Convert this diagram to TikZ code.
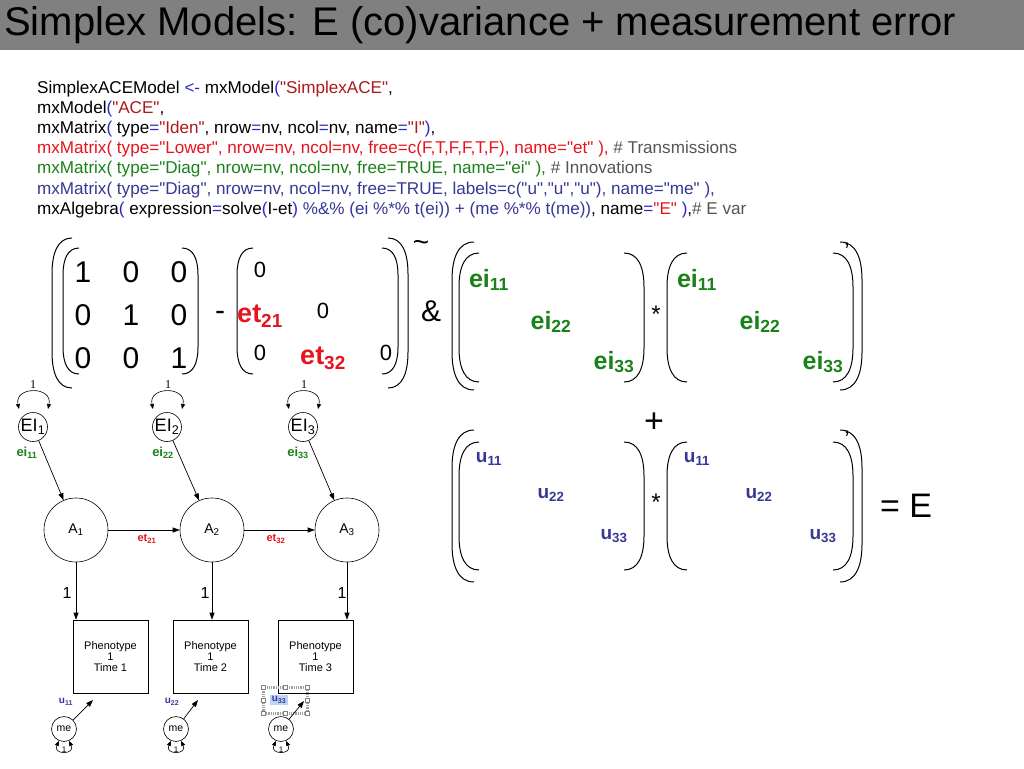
\documentclass[tikz,border=0pt]{standalone}
\usepackage{fontspec}
\setmainfont{Liberation Sans}
\newfontfamily\codefont{Liberation Sans}
\newfontfamily\serifA{Liberation Serif}
\usetikzlibrary{arrows.meta}
\definecolor{codeblue}{RGB}{40,40,210}
\definecolor{strred}{RGB}{175,25,25}
\definecolor{lred}{RGB}{230,20,30}
\definecolor{lgreen}{RGB}{25,130,25}
\definecolor{lnavy}{RGB}{55,55,150}
\definecolor{cgray}{RGB}{85,85,85}
\definecolor{titlegray}{RGB}{128,128,128}
\definecolor{selblue}{RGB}{190,212,245}
\newcommand\myfs[1]{\fontsize{#1}{#1}\selectfont}
\newcommand\kB[1]{\textcolor{codeblue}{#1}}
\newcommand\kS[1]{\textcolor{strred}{#1}}
% left paren: x, top, bottom, w, h
\newcommand\myLP[5]{\draw[pline] ({#1+#4},#2) .. controls ({#1+0.3*#4},#2) and (#1,{#2+0.4*#5}) .. (#1,{#2+#5}) -- (#1,{#3-#5}) .. controls (#1,{#3-0.4*#5}) and ({#1+0.3*#4},#3) .. ({#1+#4},#3);}
\newcommand\myRP[5]{\draw[pline] ({#1-#4},#2) .. controls ({#1-0.3*#4},#2) and (#1,{#2+0.4*#5}) .. (#1,{#2+#5}) -- (#1,{#3-#5}) .. controls (#1,{#3-0.4*#5}) and ({#1-0.3*#4},#3) .. ({#1-#4},#3);}
\begin{document}
\begin{tikzpicture}[x=1pt,y=-1pt,
  pline/.style={line width=1pt, black},
  mtx/.style={font=\myfs{30}, inner sep=0pt},
  etx/.style={font=\bfseries\myfs{27}, text=lred, inner sep=0pt},
  eix/.style={font=\bfseries\myfs{25}, text=lgreen, inner sep=0pt},
  ux/.style={font=\bfseries\myfs{19}, text=lnavy, inner sep=0pt},
  opx/.style={font=\myfs{30}, inner sep=0pt},
  code/.style={anchor=base west, font=\codefont\myfs{17.1}, inner sep=0pt},
  lat/.style={circle, draw, line width=0.6pt, inner sep=0pt},
  box/.style={rectangle, draw, line width=0.6pt, minimum width=75pt, minimum height=73pt, align=center, font=\myfs{11}, inner sep=0pt},
  arr/.style={-{Triangle[length=7pt,width=5pt]}, line width=0.7pt},
  dloop/.style={{Triangle[length=5pt,width=4pt]}-{Triangle[length=5pt,width=4pt]}, line width=0.6pt},
  gl/.style={font=\bfseries\myfs{13}, text=lgreen, inner sep=0pt},
  rl/.style={font=\bfseries\myfs{11}, text=lred, inner sep=0pt},
  nl/.style={font=\bfseries\myfs{10}, text=lnavy, inner sep=0pt},
  onel/.style={font=\myfs{16}, inner sep=0pt},
  serone/.style={font=\serifA\myfs{12}, inner sep=0pt}
]
\useasboundingbox (0,0) rectangle (1024,768);
\fill[white] (0,0) rectangle (1024,768);
% title bar
\fill[titlegray] (0,0) rectangle (1024,50);
\node[anchor=base west, font=\myfs{40}, inner sep=0pt] (title) at (4,36) {Simplex Models: E (co)variance + measurement error};

% code
\node[code] (c1) at (37,93) {SimplexACEModel \kB{<-} mxModel\kB{(}\kS{"SimplexACE"},};
\node[code] (c2) at (37,113.2) {mxModel\kB{(}\kS{"ACE"},};
\node[code] (c3) at (37,133.4) {mxMatrix\kB{(} type\kB{=}\kS{"Iden"}, nrow\kB{=}nv, ncol\kB{=}nv, name\kB{=}\kS{"I"}\kB{)},};
\node[code, text=lred] (c4) at (37,153.6) {mxMatrix( type="Lower", nrow=nv, ncol=nv, free=c(F,T,F,F,T,F), name="et" ), \textcolor{cgray}{\# Transmissions}};
\node[code, text=lgreen] (c5) at (37,173.8) {mxMatrix( type="Diag", nrow=nv, ncol=nv, free=TRUE, name="ei" ), \textcolor{cgray}{\# Innovations}};
\node[code, text=lnavy] (c6) at (37,194) {mxMatrix( type="Diag", nrow=nv, ncol=nv, free=TRUE, labels=c("u","u","u"), name="me" ),};
\node[code] (c7) at (37,214.2) {mxAlgebra\kB{(} expression\kB{=}solve\kB{(}I-et\kB{)} \textcolor{lnavy}{\%\&\% (ei \%*\% t(ei)) + (me \%*\% t(me))}, name\kB{=}\textcolor{lred}{"E"} \kB{)},\textcolor{cgray}{\# E var}};

% ---- matrix expression, top
\myLP{52}{238}{388}{20}{36}
\myLP{63}{248}{374}{16}{27}
\node[mtx] (i11) at (83,272) {1};
\node[mtx] (i12) at (131,272) {0};
\node[mtx] (i13) at (179,272) {0};
\node[mtx] (i21) at (83,315) {0};
\node[mtx] (i22) at (131,315) {1};
\node[mtx] (i23) at (179,315) {0};
\node[mtx] (i31) at (83,358) {0};
\node[mtx] (i32) at (131,358) {0};
\node[mtx] (i33) at (179,358) {1};
\myRP{198}{248}{374}{16}{27}
\node[opx] (minus) at (220,316) {-};
\myLP{237}{248}{374}{16}{27}
\node[mtx, font=\myfs{22}] (e11) at (260,270) {0};
\node[etx] (e21) at (260,316) {et\textsubscript{21}};
\node[mtx, font=\myfs{22}] (e22) at (323,311) {0};
\node[mtx, font=\myfs{22}] (e31) at (260,353) {0};
\node[etx] (e32) at (323,358) {et\textsubscript{32}};
\node[mtx, font=\myfs{22}] (e33) at (386,353) {0};
\myRP{398}{248}{374}{16}{27}
\myRP{408}{238}{388}{20}{36}
\node[font=\myfs{28}, inner sep=0pt] (tilde) at (421,246) {\char`\~};
\node[opx] (amp) at (431,311) {\&};

% ei block
\myLP{452}{242}{390}{22}{38}
\myLP{459}{253}{382}{20}{34}
\node[eix] (a11) at (489,280) {ei\textsubscript{11}};
\node[eix] (a22) at (551,322) {ei\textsubscript{22}};
\node[eix] (a33) at (614,362) {ei\textsubscript{33}};
\myRP{644}{253}{382}{20}{34}
\node[font=\myfs{24}, inner sep=0pt] (st1) at (656,314) {*};
\myLP{667}{253}{382}{20}{34}
\node[eix] (b11) at (697,280) {ei\textsubscript{11}};
\node[eix] (b22) at (760,322) {ei\textsubscript{22}};
\node[eix] (b33) at (823,362) {ei\textsubscript{33}};
\myRP{853}{253}{382}{20}{34}
\myRP{862}{242}{390}{22}{38}
\node[font=\myfs{24}, inner sep=0pt] (pr1) at (847,251) {'};

\node[font=\myfs{34}, inner sep=0pt] (plus) at (654,423) {+};

% u block
\myLP{452}{430}{582}{22}{38}
\myLP{459}{442}{570}{20}{34}
\node[ux] (u11a) at (489,459) {u\textsubscript{11}};
\node[ux] (u22a) at (551,495) {u\textsubscript{22}};
\node[ux] (u33a) at (614,536) {u\textsubscript{33}};
\myRP{644}{442}{570}{20}{34}
\node[font=\myfs{24}, inner sep=0pt] (st2) at (656,502) {*};
\myLP{667}{442}{570}{20}{34}
\node[ux] (u11b) at (697,459) {u\textsubscript{11}};
\node[ux] (u22b) at (759,495) {u\textsubscript{22}};
\node[ux] (u33b) at (823,536) {u\textsubscript{33}};
\myRP{853}{442}{570}{20}{34}
\myRP{862}{430}{582}{22}{38}
\node[font=\myfs{24}, inner sep=0pt] (pr2) at (847,439) {'};
\node[font=\myfs{34}, inner sep=0pt] (eqE) at (906,506) {= E};

% ---- path diagram
\node[lat, minimum size=29pt, font=\myfs{18}] (ei1) at (33,427) {EI\textsubscript{1}};
\node[lat, minimum size=29pt, font=\myfs{18}] (ei2) at (167,427) {EI\textsubscript{2}};
\node[lat, minimum size=29pt, font=\myfs{18}] (ei3) at (303,427) {EI\textsubscript{3}};
\foreach \n in {1,2,3}{
  \draw[dloop] ([shift={(-14,-18)}]ei\n.center) .. controls +(-5,-23) and +(5,-23) .. ([shift={(15,-18)}]ei\n.center);
}
\node[serone] (one1) at (33,385) {1};
\node[serone] (one2) at (168,385) {1};
\node[serone] (one3) at (304,385) {1};

\node[lat, minimum size=64pt, font=\myfs{14}] (a1) at (76,530) {A\textsubscript{1}};
\node[lat, minimum size=64pt, font=\myfs{14}] (a2) at (212,530) {A\textsubscript{2}};
\node[lat, minimum size=64pt, font=\myfs{14}] (a3) at (347,530) {A\textsubscript{3}};

\draw[arr] (ei1) -- (a1);
\draw[arr] (ei2) -- (a2);
\draw[arr] (ei3) -- (a3);
\node[gl] (lei1) at (27,453) {ei\textsubscript{11}};
\node[gl] (lei2) at (163,453) {ei\textsubscript{22}};
\node[gl] (lei3) at (298,453) {ei\textsubscript{33}};

\draw[arr] (a1) -- (a2);
\draw[arr] (a2) -- (a3);
\node[rl] (let1) at (147,539) {et\textsubscript{21}};
\node[rl] (let2) at (276,539) {et\textsubscript{32}};

\node[box] (box1) at (110.5,656.5) {Phenotype\\1\\Time 1};
\node[box] (box2) at (210.5,656.5) {Phenotype\\1\\Time 2};
\node[box] (box3) at (315.5,656.5) {Phenotype\\1\\Time 3};

\draw[arr] (a1.south) -- (a1.south |- box1.north);
\draw[arr] (a2.south) -- (a2.south |- box2.north);
\draw[arr] (a3.south) -- (a3.south |- box3.north);
\node[onel] (l1) at (67,593) {1};
\node[onel] (l2) at (205,593) {1};
\node[onel] (l3) at (342,593) {1};

\node[lat, minimum size=25pt, font=\myfs{10.5}] (me1) at (64,729) {me};
\node[lat, minimum size=25pt, font=\myfs{10.5}] (me2) at (176,729) {me};
\node[lat, minimum size=25pt, font=\myfs{10.5}] (me3) at (281,729) {me};
\foreach \n in {1,2,3}{
  \draw[dloop] ([shift={(-5,12)}]me\n.center) .. controls +(-7,14) and +(7,14) .. ([shift={(5,12)}]me\n.center);
}
\node[font=\myfs{8}, inner sep=0pt] (b1) at (64,750) {1};
\node[font=\myfs{8}, inner sep=0pt] (b2) at (176,750) {1};
\node[font=\myfs{8}, inner sep=0pt] (b3) at (281,750) {1};

% selection artifact
\draw[gray!75, line width=3pt, dash pattern=on 0.9pt off 0.9pt] (263,687) rectangle (307,713);
\foreach \p in {(263,687),(285,687),(307,687),(263,700),(307,700),(263,713),(285,713),(307,713)}{
  \draw[gray, fill=white, line width=0.4pt] \p ++(-1.8,-1.8) rectangle ++(3.6,3.6);
}

\coordinate (t1) at (93,700);
\coordinate (t2) at (198,700);
\coordinate (t3) at (304,701);
\draw[arr] (me1) -- (t1);
\draw[arr] (me2) -- (t2);
\draw[arr] (me3) -- (t3);
\node[nl] (lu1) at (66,702) {u\textsubscript{11}};
\node[nl] (lu2) at (172,702) {u\textsubscript{22}};
\node[nl, fill=selblue, inner sep=1.5pt] (lu3) at (279,700) {u\textsubscript{33}};
\end{tikzpicture}
\end{document}
